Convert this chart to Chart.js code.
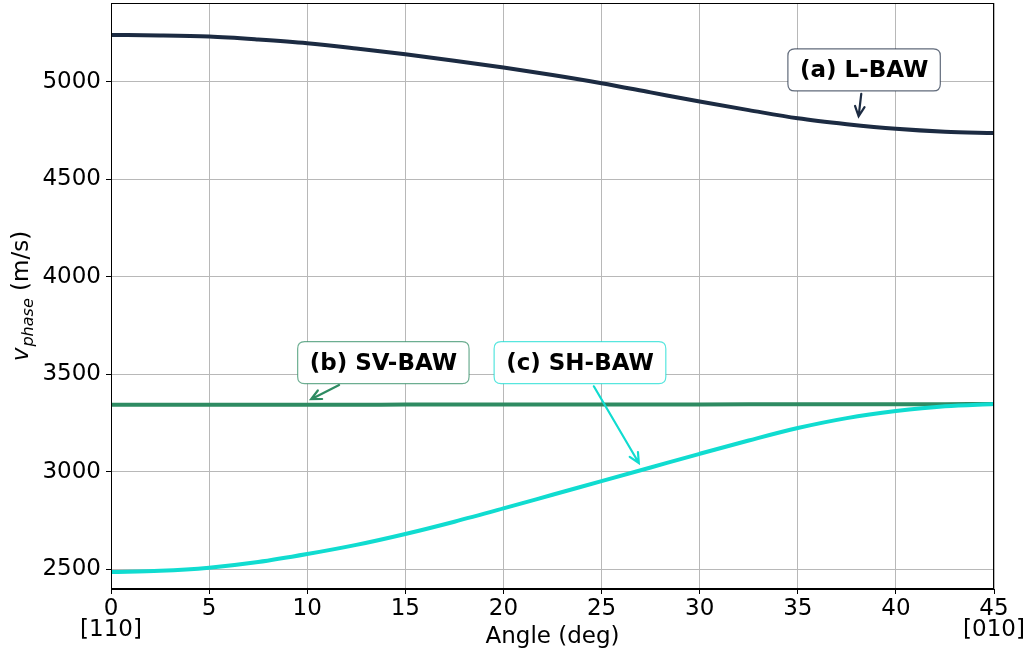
<!DOCTYPE html>
<html lang="en">
<head>
  <meta charset="UTF-8">
  <title>Phase velocity vs angle</title>
  <style>
    html, body { margin: 0; padding: 0; background: #fff; }
    #wrap { width: 1030px; height: 655px; }
  </style>
  <script src="https://cdn.jsdelivr.net/npm/chart.js"></script>
</head>
<body>
  <div id="wrap"><canvas id="chart" width="1030" height="655"></canvas></div>
  <script>
    // values
    const angles = [0, 2.5, 5, 7.5, 10, 12.5, 15, 17.5, 20, 22.5, 25, 27.5, 30, 32.5, 35, 37.5, 40, 42.5, 45];
    const lBaw  = [5239, 5237, 5231, 5216, 5197, 5170, 5140, 5107, 5072, 5034, 4992, 4945, 4898, 4854, 4812, 4782, 4758, 4743, 4736];
    const svBaw = [3343, 3343.2, 3343.4, 3343.6, 3343.8, 3344, 3344.2, 3344.4, 3344.6, 3344.8, 3345, 3345.2, 3345.4, 3345.6, 3345.8, 3346, 3346.3, 3346.6, 3347];
    const shBaw = [2486, 2492, 2508, 2537, 2578, 2625, 2681, 2744, 2812, 2882, 2952, 3022, 3092, 3160, 3224, 3275, 3311, 3336, 3347];

    const xTicks = [0, 5, 10, 15, 20, 25, 30, 35, 40, 45];
    const yTicks = [2500, 3000, 3500, 4000, 4500, 5000];
    const dirLabels = ['[110]', '[010]'];   // under first and last x tick

    const colL = '#1c2b42';
    const colSV = '#2e8b62';
    const colSH = '#10dcd0';

    // callouts: text, arrow tip and text centre in data units
    const notes = [
      { text: '(a) L-BAW',  tip: [38.1, 4822], at: [38.38, 5060], color: colL,  edge: 'rgba(28,43,66,0.7)' },
      { text: '(b) SV-BAW', tip: [10.2, 3372], at: [13.88, 3559], color: colSV, edge: 'rgba(46,139,98,0.7)' },
      { text: '(c) SH-BAW', tip: [26.9, 3045], at: [23.9, 3559],  color: colSH, edge: 'rgba(16,220,208,0.7)' }
    ];

    Chart.defaults.font.family = 'DejaVu Sans';
    Chart.defaults.font.size = 23;
    Chart.defaults.color = '#000';

    const pts = (ys) => angles.map((a, i) => ({ x: a, y: ys[i] }));

    function roundRect(ctx, x, y, w, h, r) {
      ctx.beginPath();
      ctx.moveTo(x + r, y);
      ctx.lineTo(x + w - r, y);
      ctx.quadraticCurveTo(x + w, y, x + w, y + r);
      ctx.lineTo(x + w, y + h - r);
      ctx.quadraticCurveTo(x + w, y + h, x + w - r, y + h);
      ctx.lineTo(x + r, y + h);
      ctx.quadraticCurveTo(x, y + h, x, y + h - r);
      ctx.lineTo(x, y + r);
      ctx.quadraticCurveTo(x, y, x + r, y);
      ctx.closePath();
    }

    const extras = {
      id: 'extras',
      afterDraw(chart) {
        const ctx = chart.ctx;
        const a = chart.chartArea;
        const xs = chart.scales.x, ys = chart.scales.y;

        // frame on all four sides
        ctx.save();
        ctx.strokeStyle = '#000';
        ctx.lineWidth = 1;
        ctx.strokeRect(Math.round(a.left) + 0.5, Math.round(a.top) + 0.5,
          Math.round(a.right - a.left) - 1, Math.round(a.bottom - a.top) - 1);
        ctx.restore();

        // callout boxes and arrows
        notes.forEach(n => {
          ctx.save();
          ctx.font = 'bold 23px "DejaVu Sans"';
          const tw = ctx.measureText(n.text).width;
          const cx = xs.getPixelForValue(n.at[0]);
          const cy = ys.getPixelForValue(n.at[1]);
          const bw = tw + 24, bh = 42;
          const bx = cx - bw / 2, by = cy - bh / 2;

          const tx = xs.getPixelForValue(n.tip[0]);
          const ty = ys.getPixelForValue(n.tip[1]);
          // where the arrow leaves the box
          const dx = tx - cx, dy = ty - cy;
          let t = Math.min(Math.abs((bw / 2) / (dx || 1e-9)), Math.abs((bh / 2) / (dy || 1e-9)));
          const len = Math.hypot(dx, dy);
          t += 3 / len;
          const sx = cx + dx * t, sy = cy + dy * t;

          ctx.strokeStyle = n.color;
          ctx.lineWidth = 2.2;
          ctx.lineCap = 'round';
          ctx.beginPath();
          ctx.moveTo(sx, sy);
          ctx.lineTo(tx, ty);
          const ang = Math.atan2(dy, dx);
          const hl = 11, hw = 0.45;
          ctx.moveTo(tx - hl * Math.cos(ang - hw), ty - hl * Math.sin(ang - hw));
          ctx.lineTo(tx, ty);
          ctx.lineTo(tx - hl * Math.cos(ang + hw), ty - hl * Math.sin(ang + hw));
          ctx.stroke();

          roundRect(ctx, bx, by, bw, bh, 7);
          ctx.fillStyle = '#fff';
          ctx.fill();
          ctx.strokeStyle = n.edge;
          ctx.lineWidth = 1.2;
          ctx.stroke();

          ctx.fillStyle = '#000';
          ctx.textAlign = 'center';
          ctx.textBaseline = 'middle';
          ctx.fillText(n.text, cx, cy + 1);
          ctx.restore();
        });

        // x axis title
        ctx.save();
        ctx.font = '23px "DejaVu Sans"';
        ctx.fillStyle = '#000';
        ctx.textAlign = 'center';
        ctx.textBaseline = 'alphabetic';
        ctx.fillText('Angle (deg)', (a.left + a.right) / 2, 643);
        ctx.restore();

        // y axis title: v_phase (m/s)
        ctx.save();
        ctx.fillStyle = '#000';
        const f1 = 'italic 23px "DejaVu Sans"';
        const f2 = 'italic 16px "DejaVu Sans"';
        const f3 = '23px "DejaVu Sans"';
        ctx.font = f1; const w1 = ctx.measureText('v').width;
        ctx.font = f2; const w2 = ctx.measureText('phase').width;
        ctx.font = f3; const w3 = ctx.measureText(' (m/s)').width;
        const total = w1 + 1 + w2 + w3;
        ctx.translate(28, (a.top + a.bottom) / 2);
        ctx.rotate(-Math.PI / 2);
        ctx.textBaseline = 'alphabetic';
        ctx.textAlign = 'left';
        let p = -total / 2;
        ctx.font = f1; ctx.fillText('v', p, 0); p += w1 + 1;
        ctx.font = f2; ctx.fillText('phase', p, 5); p += w2;
        ctx.font = f3; ctx.fillText(' (m/s)', p, 0);
        ctx.restore();
      }
    };

    new Chart(document.getElementById('chart'), {
      type: 'line',
      data: {
        datasets: [
          { label: 'L-BAW', data: pts(lBaw), borderColor: colL, borderWidth: 4, order: 3 },
          { label: 'SV-BAW', data: pts(svBaw), borderColor: colSV, borderWidth: 4, order: 2 },
          { label: 'SH-BAW', data: pts(shBaw), borderColor: colSH, borderWidth: 4, order: 1 }
        ]
      },
      options: {
        responsive: false,
        animation: false,
        layout: { padding: { top: 3, right: 36, left: 0, bottom: 0 } },
        elements: {
          point: { radius: 0 },
          line: { cubicInterpolationMode: 'monotone', fill: false }
        },
        plugins: { legend: { display: false }, tooltip: { enabled: false } },
        scales: {
          x: {
            type: 'linear',
            min: 0, max: 45,
            afterBuildTicks: (s) => { s.ticks = xTicks.map(v => ({ value: v })); },
            afterFit: (s) => { s.height = 66; s.paddingLeft = 0; s.paddingRight = 0; },
            grid: { color: '#b8b8b8', lineWidth: 1, tickColor: '#000', tickLength: 5 },
            border: { color: '#000', width: 1 },
            ticks: {
              padding: 4,
              maxRotation: 0,
              font: { size: 23, lineHeight: 0.92 },
              callback: (v) => v === xTicks[0] ? [String(v), dirLabels[0]]
                : v === xTicks[xTicks.length - 1] ? [String(v), dirLabels[1]] : String(v)
            },
            title: { display: false }
          },
          y: {
            min: 2399, max: 5403,
            afterBuildTicks: (s) => { s.ticks = yTicks.map(v => ({ value: v })); },
            afterFit: (s) => { s.width = 111; s.paddingTop = 0; s.paddingBottom = 0; },
            grid: { color: '#b8b8b8', lineWidth: 1, tickColor: '#000', tickLength: 5 },
            border: { color: '#000', width: 1 },
            ticks: { padding: 5, font: { size: 23 }, callback: (v) => String(v) },
            title: { display: false }
          }
        }
      },
      plugins: [extras]
    });
  </script>
</body>
</html>
